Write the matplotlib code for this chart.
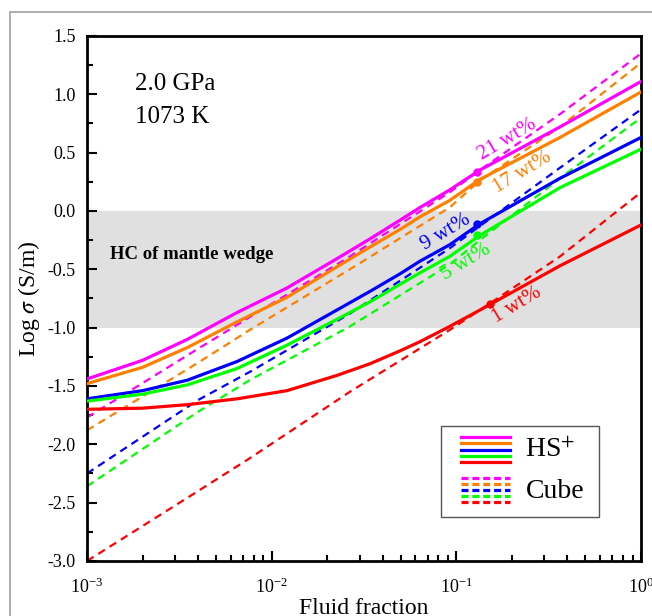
import matplotlib
matplotlib.use("Agg")
import matplotlib.pyplot as plt
from matplotlib.patches import Rectangle

plt.rcParams['font.family'] = ['Liberation Serif', 'DejaVu Serif']
plt.rcParams['mathtext.fontset'] = 'stix'

# Fluid fraction grid and log conductivity, HS+ bound (solid)
phi_hs = [0.001, 0.002, 0.0035, 0.0065, 0.0121, 0.0225, 0.034, 0.0494, 0.0636,
          0.092, 0.134, 0.364, 1.0]
hs_21 = [-1.44, -1.28, -1.10, -0.87, -0.66, -0.41, -0.24, -0.08, 0.03, 0.18, 0.35, 0.72, 1.11]
hs_17 = [-1.48, -1.34, -1.17, -0.95, -0.74, -0.48, -0.31, -0.16, -0.05, 0.09, 0.27, 0.63, 1.02]
hs_9 = [-1.61, -1.54, -1.45, -1.29, -1.09, -0.85, -0.69, -0.54, -0.43, -0.29, -0.11, 0.28, 0.63]
hs_5 = [-1.63, -1.57, -1.49, -1.35, -1.15, -0.93, -0.78, -0.63, -0.53, -0.39, -0.21, 0.20, 0.53]
hs_1 = [-1.70, -1.69, -1.66, -1.61, -1.54, -1.41, -1.31, -1.20, -1.12, -0.99, -0.85, -0.47, -0.12]

# Cube model (dashed)
phi_cube = [0.001, 0.004, 0.0076, 0.0265, 0.092, 0.134, 0.364, 1.0]
cube_21 = [-1.77, -1.18, -0.91, -0.39, 0.16, 0.35, 0.83, 1.35]
cube_17 = [-1.88, -1.30, -1.02, -0.50, 0.03, 0.26, 0.72, 1.27]
cube_9 = [-2.25, -1.62, -1.38, -0.88, -0.32, -0.13, 0.37, 0.87]
cube_5 = [-2.36, -1.72, -1.45, -0.99, -0.46, -0.25, 0.28, 0.80]
cube_1 = [-3.00, -2.40, -2.12, -1.55, -1.02, -0.85, -0.39, 0.16]

# crossing points marked with dots
dot_phi = [0.129, 0.129, 0.129, 0.129, 0.152]
dot_val = [0.334, 0.25, -0.11, -0.21, -0.80]

labels = ['21 wt%', '17 wt%', '9 wt%', '5 wt%', '1 wt%']
label_phi = [0.190, 0.229, 0.088, 0.113, 0.213]
label_val = [0.61, 0.334, -0.18, -0.44, -0.81]
colors = ['#ff00ff', '#ff8000', '#0000ff', '#00ff00', '#ff0000']

hs = [hs_21, hs_17, hs_9, hs_5, hs_1]
cube = [cube_21, cube_17, cube_9, cube_5, cube_1]

fig = plt.figure(figsize=(6.52, 6.16), dpi=100)
ax = fig.add_axes([0.1334, 0.0893, 0.8497, 0.8523])

# grey outer frame
fig.patches.append(Rectangle((10 / 652, -0.1), 1.2, 1.1 - 12 / 616, transform=fig.transFigure,
                             fill=False, edgecolor='#a0a0a0', lw=1.2))

# HC of mantle wedge band
ax.axhspan(-1.0, 0.0, color='#e0e0e0', lw=0, zorder=0)

for i in range(5):
    ax.plot(phi_cube, cube[i], color=colors[i], lw=1.6, ls=(0, (3.5, 2.5)), zorder=2)
for i in range(5):
    ax.plot(phi_hs, hs[i], color=colors[i], lw=2.3, zorder=3)
    ax.plot(dot_phi[i], dot_val[i], 'o', color=colors[i], ms=5, zorder=4)
    ax.text(label_phi[i], label_val[i], labels[i], color=colors[i], fontsize=15,
            rotation=31, ha='center', va='center', rotation_mode='anchor')

ax.set_xscale('log')
ax.set_xlim(1e-3, 1)
ax.set_ylim(-3.0, 1.5)
ax.set_yticks([-3.0, -2.5, -2.0, -1.5, -1.0, -0.5, 0.0, 0.5, 1.0, 1.5])
ax.set_yticks([-2.75, -2.25, -1.75, -1.25, -0.75, -0.25, 0.25, 0.75, 1.25], minor=True)
ax.set_yticklabels(['-3.0', '-2.5', '-2.0', '-1.5', '-1.0', '-0.5', '0.0', '0.5', '1.0', '1.5'])
ax.tick_params(which='both', direction='in', top=False, right=False, labelsize=13, width=1.5)
ax.tick_params(which='major', length=7, pad=8)
ax.tick_params(which='minor', length=4)
ax.tick_params(axis='x', which='major', pad=12)
for s in ax.spines.values():
    s.set_linewidth(2)

ax.set_xlabel('Fluid fraction', fontsize=17, labelpad=1)
ax.set_ylabel(r'Log $\sigma$ (S/m)', fontsize=17, labelpad=4)

ax.text(0.0866, 0.908, '2.0 GPa', transform=ax.transAxes, fontsize=18, va='center')
ax.text(0.0866, 0.845, '1073 K', transform=ax.transAxes, fontsize=18, va='center')
ax.text(0.0415, 0.583, 'HC of mantle wedge', transform=ax.transAxes, fontsize=13.5,
        fontweight='bold', va='center')

# legend box with stacked line samples
ax.add_patch(Rectangle((0.639, 0.0838), 0.285, 0.173, transform=ax.transAxes,
                       facecolor='white', edgecolor='#555555', lw=1, zorder=5))
solid_y = [0.236, 0.225, 0.211, 0.200, 0.189]
dash_y = [0.158, 0.147, 0.135, 0.124, 0.112]
for i in range(5):
    ax.plot([0.675, 0.764], [solid_y[i], solid_y[i]], transform=ax.transAxes,
            color=colors[i], lw=2.3, zorder=6)
    ax.plot([0.675, 0.764], [dash_y[i], dash_y[i]], transform=ax.transAxes,
            color=colors[i], lw=2.3, ls=(0, (2.2, 1.2)), zorder=6)
ax.text(0.791, 0.211, r'HS$^{+}$', transform=ax.transAxes, fontsize=20, va='center', zorder=6)
ax.text(0.793, 0.133, 'Cube', transform=ax.transAxes, fontsize=20, va='center', zorder=6)

fig.savefig('out.png', dpi=100)
